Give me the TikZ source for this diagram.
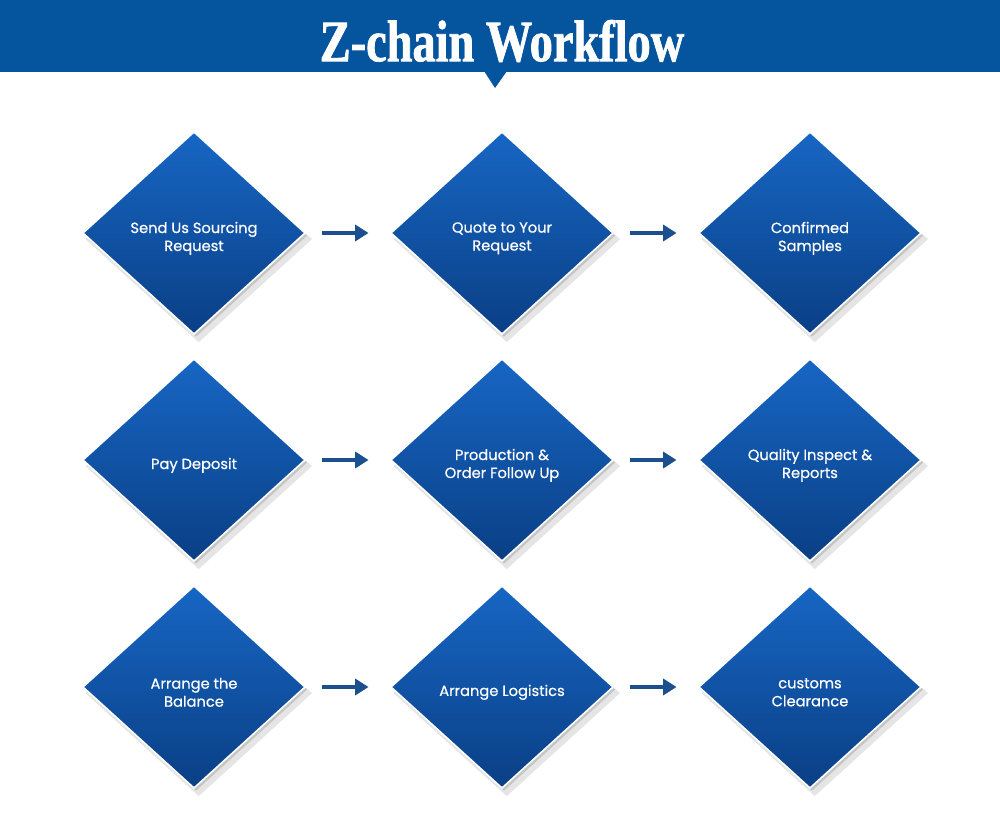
\documentclass[tikz,border=0pt]{standalone}
\usepackage{fontspec}
\setmainfont{Poppins}
\newfontfamily\stepfont[FakeBold=0.6]{Poppins}
\newfontfamily\titlefont[FakeStretch=0.79, FakeBold=1.2]{Liberation Serif}
\usepackage{xcolor}
\usetikzlibrary{arrows.meta,positioning,shapes.geometric,shadows}

\definecolor{bandblue}{HTML}{04549E}
\definecolor{steptop}{HTML}{1766C4}
\definecolor{stepbot}{HTML}{0A3F85}
\definecolor{arrowblue}{HTML}{1B4F8E}

\begin{document}
\begin{tikzpicture}[
  x=0.75pt, y=-0.75pt,
  every node/.style={font=\small},
  stepbox/.style={diamond, aspect=1.1, minimum width=167pt, minimum height=152pt,
    inner sep=0pt, draw=white, line width=1.2pt,
    top color=steptop, bottom color=stepbot,
    drop shadow={shadow xshift=3.5pt, shadow yshift=-4.5pt, shadow scale=1.02, opacity=0.10, fill=black},
    drop shadow={shadow xshift=1.5pt, shadow yshift=-2pt, opacity=0.14, fill=black}},
  steptext/.style={text=white, align=center, yshift=-4pt,
    font=\stepfont\fontsize{11}{13.5}\selectfont},
  flow/.style={-{Triangle[length=10pt, width=12pt]}, line width=2.4pt, arrowblue,
    shorten <=12pt, shorten >=16pt},
]
\useasboundingbox (0,0) rectangle (1000,824);

%% -- Header band with pointer ----------------------------------------------
\fill[bandblue] (0,0) rectangle (1000,72);
\fill[bandblue] (484,71) -- (507,71) -- (495,88) -- cycle;
\node[text=white, font=\titlefont\bfseries\fontsize{44}{50}\selectfont] (title) at (502,41) {Z-chain Workflow};

%% -- Steps (row by row) ----------------------------------------------------
\foreach \n/\x/\y/\lbl in {
  s1/194/233/{Send Us Sourcing\\Request},
  s2/502/233/{Quote to Your\\Request},
  s3/810/233/{Confirmed\\Samples},
  s4/194/460/{Pay Deposit},
  s5/502/460/{Production \&\\Order Follow Up},
  s6/810/460/{Quality Inspect \&\\Reports},
  s7/194/687/{Arrange the\\Balance},
  s8/502/687/{Arrange Logistics},
  s9/810/687/{customs\\Clearance}} {
  \node[stepbox] (\n) at (\x,\y) {};
  \node[steptext] (\n-text) at (\n.center) {\lbl};
}

%% -- Arrows between steps --------------------------------------------------
\foreach \a/\b in {s1/s2, s2/s3, s4/s5, s5/s6, s7/s8, s8/s9} {
  \draw[flow] (\a) -- (\b);
}

\end{tikzpicture}
\end{document}
